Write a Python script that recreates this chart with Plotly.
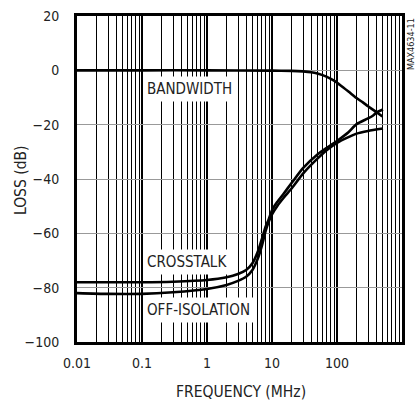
import plotly.graph_objects as go

bw_freq = [0.01, 0.1, 1, 10, 20, 30, 40, 50, 70, 90, 110, 150, 200, 250, 300, 400, 500]
bw_db = [0, 0, 0, -0.1, -0.2, -0.4, -0.7, -1.2, -2.4, -3.8, -5.3, -7.8, -10.2, -11.8, -13.2, -15.3, -17.0]

ct_freq = [0.01, 0.1, 0.3, 1, 2, 3, 4, 5, 6, 7, 8, 9, 10, 12, 15, 20, 30, 50, 70, 100, 150, 200, 300, 360, 410, 510]
ct_db = [-78, -78, -77.8, -77.2, -76.2, -75, -73.5, -71, -67, -62, -57.5, -54.5, -51.5, -48.5, -45.5, -41.5, -36, -31, -28.5, -26, -22.8, -19.8, -17.7, -16.6, -15.4, -14.4]

oi_freq = [0.01, 0.03, 0.1, 0.3, 1, 2, 3, 4, 5, 6, 7, 8, 9, 10, 12, 15, 20, 30, 50, 70, 100, 150, 200, 300, 510]
oi_db = [-82, -82.3, -82.3, -81.7, -80.5, -79, -77.5, -76, -73.5, -69.5, -64.5, -59, -55.5, -53, -50, -47, -43.5, -38, -32.5, -29.3, -26.7, -24.6, -23.3, -22.3, -21.4]

x_ticks = [0.01, 0.1, 1, 10, 100, 1000]
x_tick_text = ["0.01", "0.1", "1", "10", "100", "1000"]
y_ticks = [-100, -80, -60, -40, -20, 0, 20]

FONT = "DejaVu Sans Condensed, Liberation Sans Narrow, Liberation Sans, sans-serif"
TXT = "#222"

fig = go.Figure()
for fx, fy in [(bw_freq, bw_db), (ct_freq, ct_db), (oi_freq, oi_db)]:
    fig.add_trace(go.Scatter(x=fx, y=fy, mode="lines",
                             line=dict(color="black", width=2.6, shape="spline", smoothing=0.6),
                             showlegend=False, hoverinfo="skip"))

fig.update_layout(
    width=417, height=400,
    margin=dict(l=77, r=15, t=16, b=58),
    paper_bgcolor="white", plot_bgcolor="white",
    font=dict(family=FONT, size=14, color=TXT),
)
fig.update_xaxes(
    type="log", range=[-2, 3], automargin=False,
    tickvals=x_ticks, ticktext=x_tick_text, ticks="", ticklabelstandoff=6,
    showgrid=True, gridcolor="black", gridwidth=1.5,
    minor=dict(dtick="D1", showgrid=True, gridcolor="black", gridwidth=1, ticks=""),
    showline=True, linecolor="black", linewidth=3, mirror=True,
    tickfont=dict(family=FONT, size=14, color=TXT),
    zeroline=False,
)
fig.update_yaxes(
    range=[-100, 20], tickvals=y_ticks, ticks="", automargin=False, ticklabelstandoff=12,
    showgrid=True, gridcolor="#999", gridwidth=1,
    showline=True, linecolor="black", linewidth=3, mirror=True,
    tickfont=dict(family=FONT, size=14, color=TXT),
    zeroline=False,
)

fig.add_annotation(x=-0.172, y=0.497, xref="paper", yref="paper", text="LOSS (dB)",
                   showarrow=False, textangle=-90, xanchor="center", yanchor="middle",
                   font=dict(family=FONT, size=15.5, color=TXT))
fig.add_annotation(x=0.505, y=-0.152, xref="paper", yref="paper", text="FREQUENCY (MHz)",
                   showarrow=False, xanchor="center", yanchor="middle",
                   font=dict(family=FONT, size=15.5, color=TXT))

for txt, x, y in [("BANDWIDTH", -0.985, -7.0), ("CROSSTALK", -0.985, -70.7), ("OFF-ISOLATION", -0.985, -88.4)]:
    fig.add_annotation(x=x, y=y, xref="x", yref="y", text=txt, showarrow=False,
                       xanchor="left", yanchor="middle", bgcolor="white", borderpad=3,
                       font=dict(family=FONT, size=15, color=TXT))

fig.add_annotation(x=1.0, y=1.0, xref="paper", yref="paper", text="MAX4634-11",
                   showarrow=False, textangle=-90, xanchor="left", yanchor="top",
                   xshift=2, font=dict(family=FONT, size=9, color=TXT))

fig.write_html("out.html", config={"displayModeBar": False},
               post_script="document.body.style.margin='0';document.body.style.overflow='hidden';")
